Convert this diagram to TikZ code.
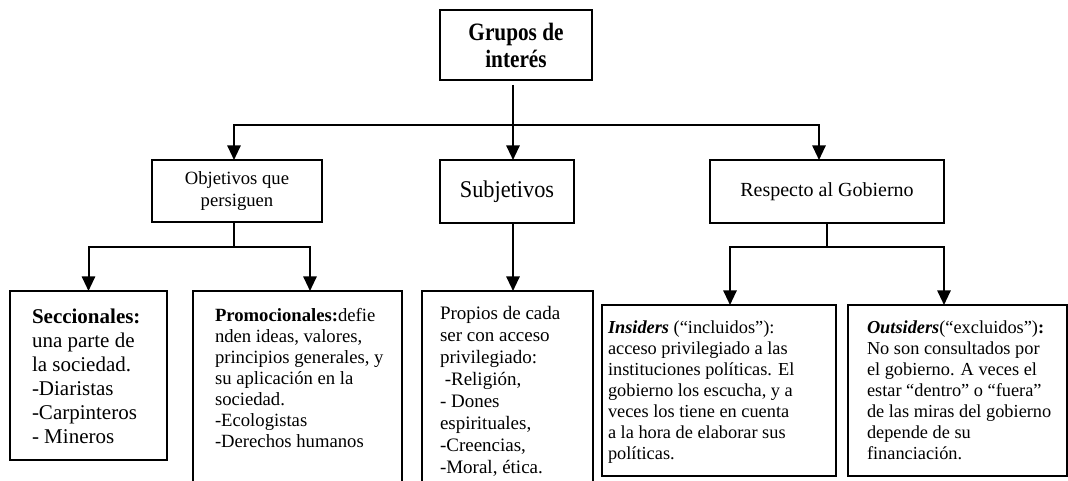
\documentclass[tikz,border=0pt]{standalone}
\usepackage{fontspec}
\setmainfont{Liberation Serif}
\newfontfamily\grpfont[FakeStretch=0.85]{Liberation Serif}
\newfontfamily\subfont[FakeStretch=0.93]{Liberation Serif}
\usetikzlibrary{arrows.meta}
\begin{document}
\begin{tikzpicture}[x=0.75pt,y=-0.75pt,
  box/.style={draw, line width=1.5pt, inner sep=0pt, outer sep=0pt, anchor=north west, align=center},
  txt/.style={inner sep=0pt, outer sep=0pt, anchor=north west, align=left},
  conn/.style={line width=1.5pt},
  arr/.style={conn, -{Triangle[length=11pt,width=10pt]}}]
\useasboundingbox (0,0) rectangle (1068,481);
\fill[white] (0,0) rectangle (1068,481);
\clip (0,0) rectangle (1068,481);

% top level
\node[box, minimum width=152*0.75pt, minimum height=70*0.75pt,
      font=\grpfont\bfseries\fontsize{18.75}{20.25}\selectfont] (grp) at (440,10) {Grupos de\\interés};

% second level
\node[box, minimum width=170*0.75pt, minimum height=62*0.75pt,
      font=\fontsize{14}{16.5}\selectfont] (obj) at (152,160) {Objetivos que\\persiguen};
\node[box, minimum width=134*0.75pt, minimum height=63*0.75pt,
      font=\subfont\fontsize{18}{20}\selectfont] (sub) at (440,160) {Subjetivos};
\node[box, minimum width=234*0.75pt, minimum height=63*0.75pt,
      font=\fontsize{15}{17}\selectfont] (resp) at (710,160) {Respecto al Gobierno};

% third level boxes
\node[box, minimum width=157*0.75pt, minimum height=169*0.75pt] (sec) at (10,291) {};
\node[box, minimum width=209*0.75pt, minimum height=220*0.75pt] (prom) at (193,291) {};
\node[box, minimum width=171*0.75pt, minimum height=220*0.75pt] (prop) at (422,291) {};
\node[box, minimum width=234*0.75pt, minimum height=171*0.75pt] (ins) at (602,305) {};
\node[box, minimum width=219*0.75pt, minimum height=171*0.75pt] (out) at (848,305) {};

% texts of third level
\node[txt, font=\fontsize{15.75}{18}\selectfont] (sect) at (32,309)
  {\textbf{Seccionales:}\\una parte de\\la sociedad.\\-Diaristas\\-Carpinteros\\- Mineros};
\node[txt, font=\fontsize{14}{15.75}\selectfont] (promt) at (215,308)
  {\textbf{Promocionales:}defie\\nden ideas, valores,\\principios generales, y\\su aplicación en la\\sociedad.\\-Ecologistas\\-Derechos humanos};
\node[txt, font=\fontsize{14.25}{16.5}\selectfont] (propt) at (440,306)
  {Propios de cada\\ser con acceso\\privilegiado:\\\hspace*{0.25em}-Religión,\\- Dones\\espirituales,\\-Creencias,\\-Moral, ética.};
\node[txt, font=\fontsize{13.75}{15.75}\selectfont] (inst) at (608,320.5)
  {\textbf{\textit{Insiders}} (“incluidos”):\\acceso privilegiado a las\\instituciones políticas. El\\gobierno los escucha, y a\\veces los tiene en cuenta\\a la hora de elaborar sus\\políticas.};
\node[txt, font=\fontsize{13.75}{15.75}\selectfont] (outt) at (867,320.5)
  {\textbf{\textit{Outsiders}}(“excluidos”)\textbf{:}\\No son consultados por\\el gobierno. A veces el\\estar “dentro” o “fuera”\\de las miras del gobierno\\depende de su\\financiación.};

% connectors
\coordinate (h1) at (513,125);
\draw[conn] (h1 |- grp.south) ++(0,5) -- (h1);
\draw[arr] (h1) -- (h1 |- sub.north);
\draw[arr] (h1) -| ([xshift=-2.25pt]obj.north);
\draw[arr] (h1) -| ([xshift=-6pt]resp.north);

\coordinate (h2) at (234,247);
\draw[conn] (h2 |- obj.south) -- (h2);
\draw[arr] (h2) -| (sec.north);
\draw[arr] (h2) -| ([xshift=9.375pt]prom.north);

\draw[arr] (h1 |- sub.south) -- (h1 |- prop.north);

\coordinate (h3) at (827,247);
\draw[conn] (h3 |- resp.south) -- (h3);
\draw[arr] (h3) -| ([xshift=8.25pt]ins.north);
\draw[arr] (h3) -| ([xshift=-10.125pt]out.north);
\end{tikzpicture}
\end{document}
